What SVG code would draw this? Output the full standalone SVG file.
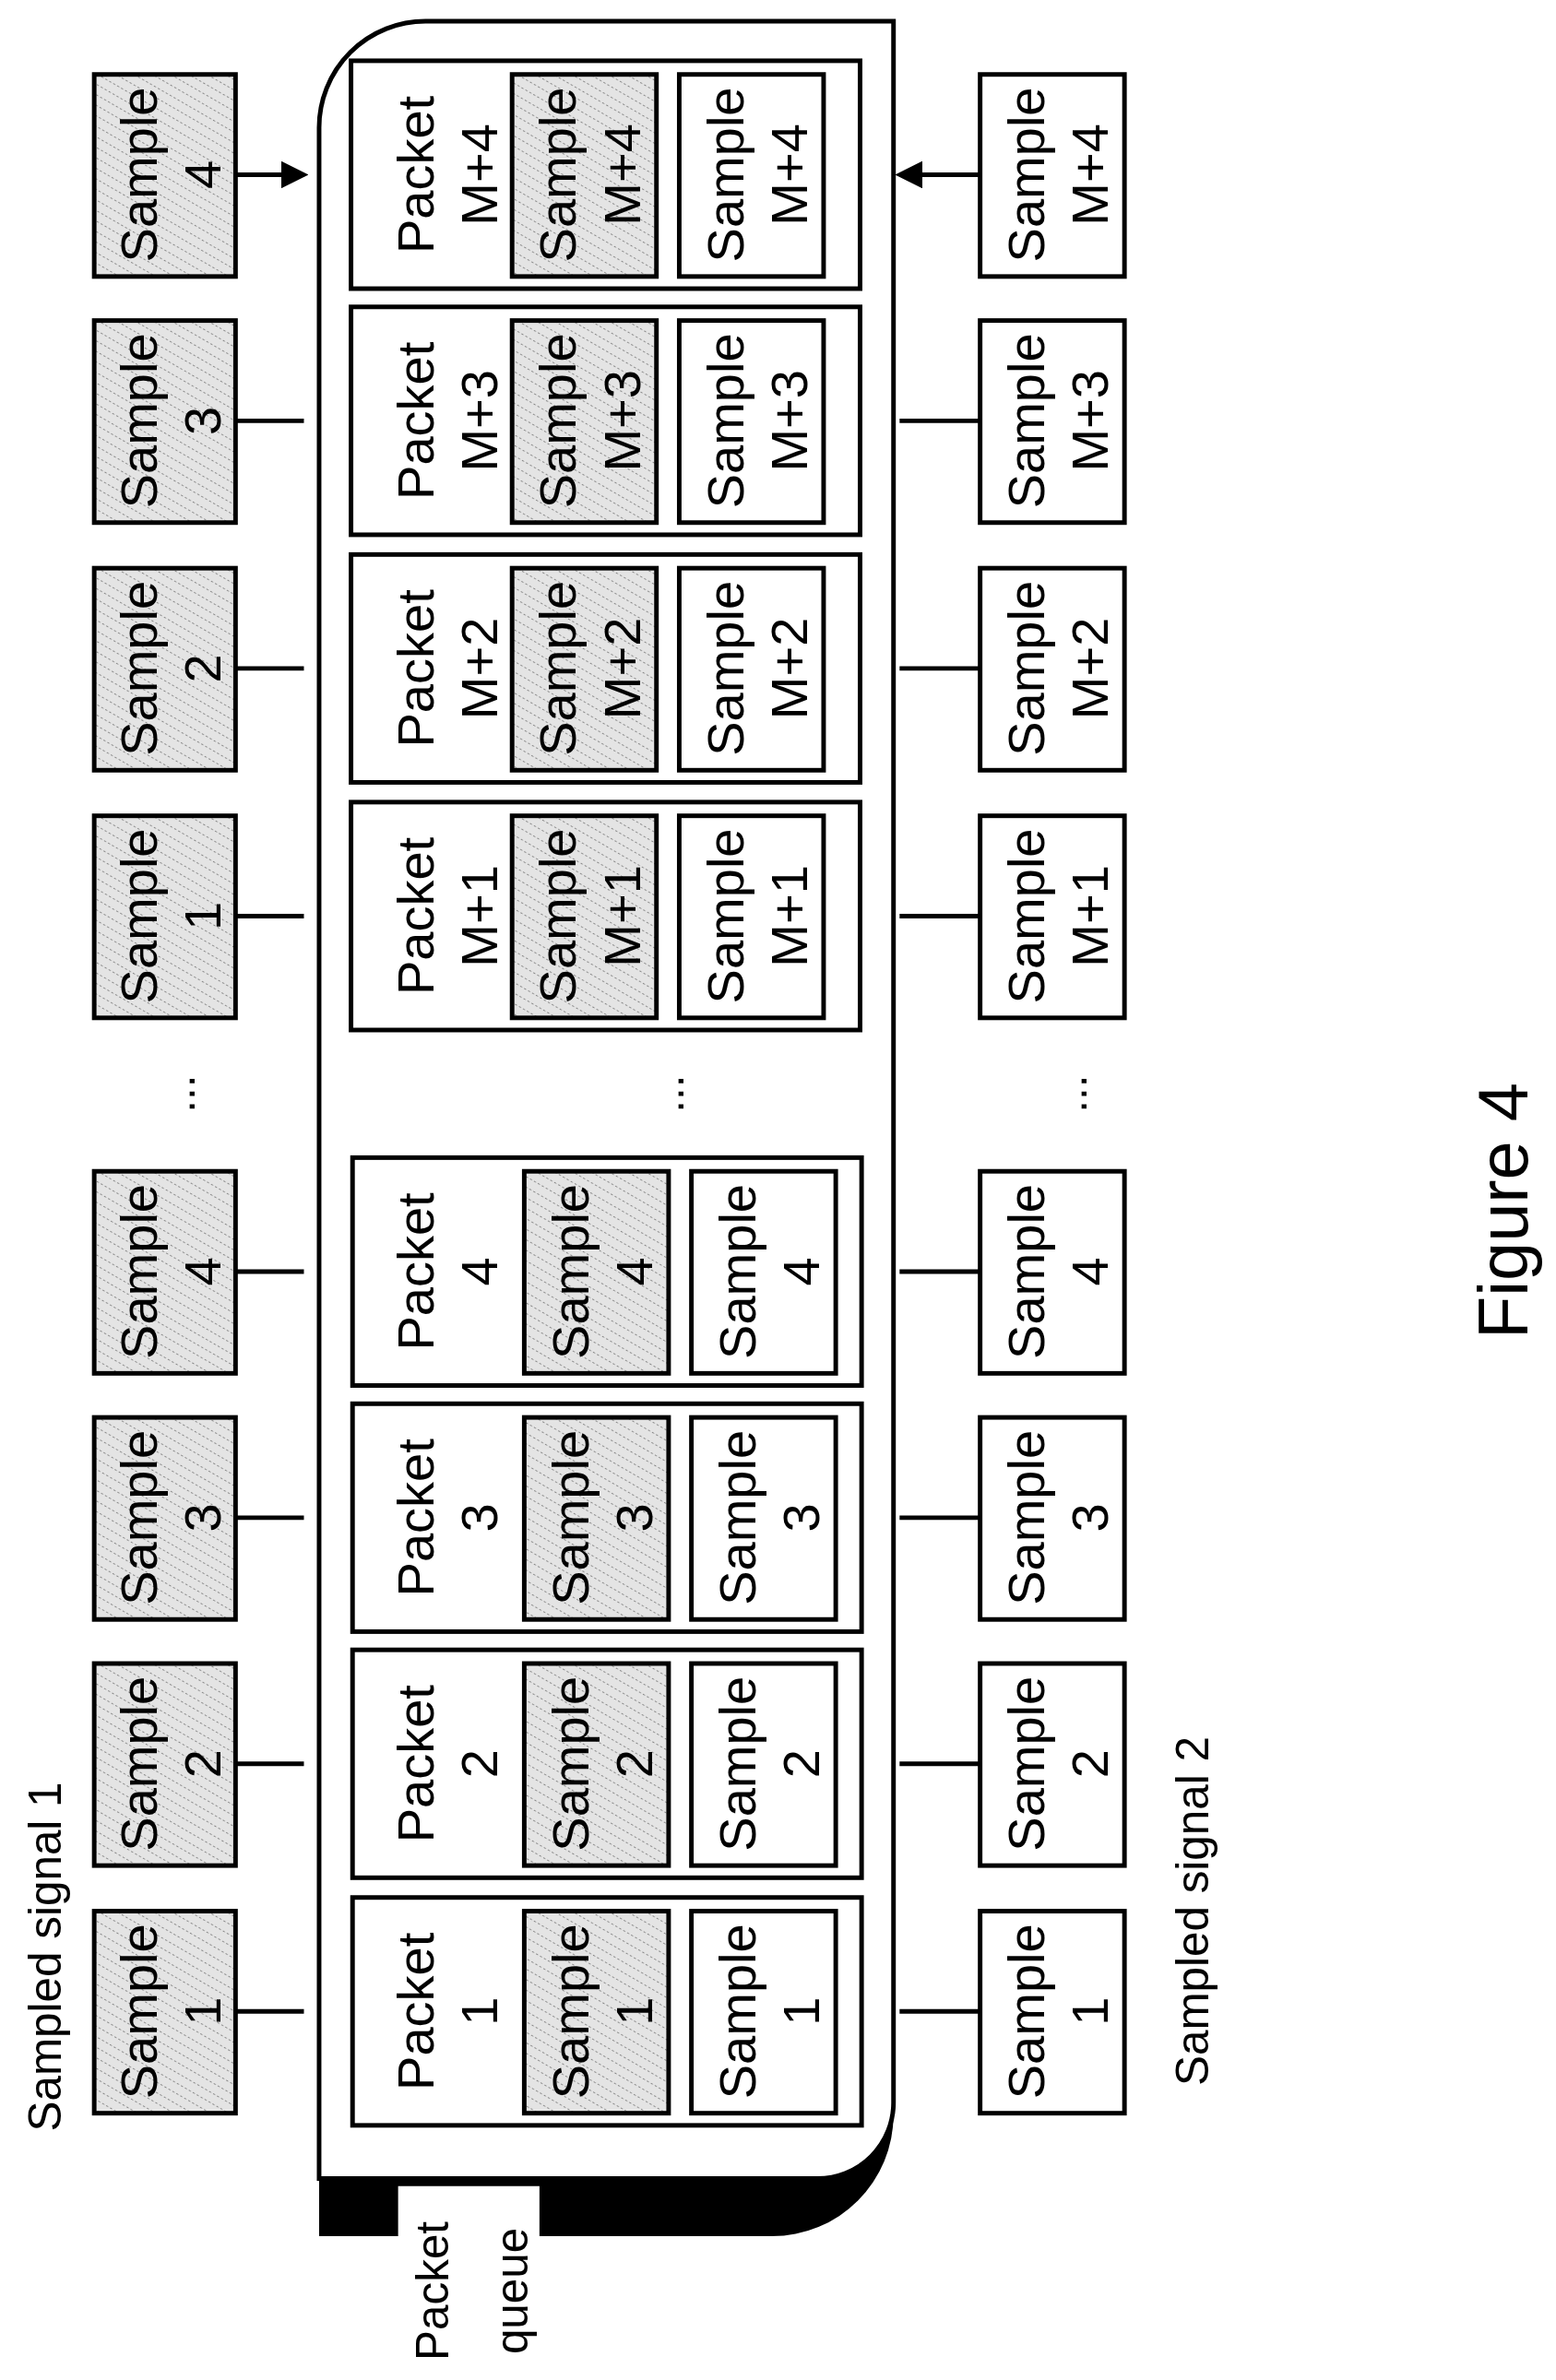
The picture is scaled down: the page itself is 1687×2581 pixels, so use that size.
<svg xmlns="http://www.w3.org/2000/svg" width="1687" height="2581" viewBox="0 0 1687 2581">
<defs>
<pattern id="hatch" patternUnits="userSpaceOnUse" width="6" height="6" patternTransform="rotate(-60)">
<rect width="6" height="6" fill="#e4e4e4"/>
<line x1="0" y1="0" x2="0" y2="6" stroke="#777" stroke-width="1" stroke-dasharray="1.5 1.5"/>
</pattern>
<marker id="ah" markerWidth="6" markerHeight="6" refX="5" refY="3" orient="auto" markerUnits="strokeWidth">
<path d="M0,0 L6,3 L0,6 Z" fill="#000"/>
</marker>
<style>
.b{fill:#fff;stroke:#000;stroke-width:3}
.h{fill:url(#hatch);stroke:#000;stroke-width:3}
.t{font-family:"Liberation Sans",Arial,sans-serif;font-size:34px;fill:#000;text-anchor:middle}
.l{font-family:"Liberation Sans",Arial,sans-serif;font-size:30px;fill:#000;text-anchor:middle}
.c{stroke:#000;stroke-width:3;fill:none;marker-end:url(#ah)}
</style>
<g id="smp">
<text class="t" transform="rotate(-90)"><tspan x="0" y="-5">Sample</tspan></text>
</g>
</defs>
<rect width="1687" height="2581" fill="#fff"/>
<g transform="scale(1.6475)">
<g id="queue">
<path d="M210,1420 L210,1472 L508,1472 A80,80 0 0 0 588,1392 L588,1300 Z" fill="#000"/>
<path d="M210,84 A70,70 0 0 1 280,14 L588,14 L588,1384 A50,50 0 0 1 538,1434 L210,1434 Z" fill="#fff" stroke="#000" stroke-width="3"/>
<rect x="262" y="1439" width="93" height="34" fill="#fff"/>
<text class="l" transform="translate(300,1508) rotate(-90)"><tspan x="0" y="-5">Packet</tspan><tspan x="0" y="47">queue</tspan></text>
</g>
<g id="labels">
<text class="l" transform="translate(40,1288) rotate(-90)" y="0">Sampled signal 1</text>
<text class="l" transform="translate(795,1258) rotate(-90)" y="0">Sampled signal 2</text>
<text class="l" transform="translate(1005,797) rotate(-90)" style="font-size:46px">Figure 4</text>
<text class="l" transform="translate(128,720) rotate(-90)">...</text>
<text class="l" transform="translate(450,720) rotate(-90)">...</text>
<text class="l" transform="translate(715,720) rotate(-90)">...</text>
</g>
<g id="connectors">
<path class="c" d="M155,1324 L200,1324 M155,1161 L200,1161 M155,999 L200,999 M155,837 L200,837 M155,603 L200,603 M155,440 L200,440 M155,277 L200,277 M155,115 L200,115"/>
<path class="c" d="M645,1324 L592,1324 M645,1161 L592,1161 M645,999 L592,999 M645,837 L592,837 M645,603 L592,603 M645,440 L592,440 M645,277 L592,277 M645,115 L592,115"/>
</g>
<g id="row1" transform="translate(0,1249)">
<rect class="h" x="62" y="9" width="93" height="133"/>
<text class="t" transform="translate(108,75) rotate(-90)"><tspan x="0" y="-5">Sample</tspan><tspan x="0" y="37">1</tspan></text>
<rect class="b" x="232" y="0" width="335" height="150"/>
<text class="t" transform="translate(290,75) rotate(-90)"><tspan x="0" y="-5">Packet</tspan><tspan x="0" y="37">1</tspan></text>
<rect class="h" x="345" y="9" width="95" height="133"/>
<text class="t" transform="translate(392,75) rotate(-90)"><tspan x="0" y="-5">Sample</tspan><tspan x="0" y="37">1</tspan></text>
<rect class="b" x="455" y="9" width="95" height="133"/>
<text class="t" transform="translate(502,75) rotate(-90)"><tspan x="0" y="-5">Sample</tspan><tspan x="0" y="37">1</tspan></text>
<rect class="b" x="645" y="9" width="95" height="133"/>
<text class="t" transform="translate(692,75) rotate(-90)"><tspan x="0" y="-5">Sample</tspan><tspan x="0" y="37">1</tspan></text>
</g>
<g id="row2" transform="translate(0,1086)">
<rect class="h" x="62" y="9" width="93" height="133"/>
<text class="t" transform="translate(108,75) rotate(-90)"><tspan x="0" y="-5">Sample</tspan><tspan x="0" y="37">2</tspan></text>
<rect class="b" x="232" y="0" width="335" height="150"/>
<text class="t" transform="translate(290,75) rotate(-90)"><tspan x="0" y="-5">Packet</tspan><tspan x="0" y="37">2</tspan></text>
<rect class="h" x="345" y="9" width="95" height="133"/>
<text class="t" transform="translate(392,75) rotate(-90)"><tspan x="0" y="-5">Sample</tspan><tspan x="0" y="37">2</tspan></text>
<rect class="b" x="455" y="9" width="95" height="133"/>
<text class="t" transform="translate(502,75) rotate(-90)"><tspan x="0" y="-5">Sample</tspan><tspan x="0" y="37">2</tspan></text>
<rect class="b" x="645" y="9" width="95" height="133"/>
<text class="t" transform="translate(692,75) rotate(-90)"><tspan x="0" y="-5">Sample</tspan><tspan x="0" y="37">2</tspan></text>
</g>
<g id="row3" transform="translate(0,924)">
<rect class="h" x="62" y="9" width="93" height="133"/>
<text class="t" transform="translate(108,75) rotate(-90)"><tspan x="0" y="-5">Sample</tspan><tspan x="0" y="37">3</tspan></text>
<rect class="b" x="232" y="0" width="335" height="150"/>
<text class="t" transform="translate(290,75) rotate(-90)"><tspan x="0" y="-5">Packet</tspan><tspan x="0" y="37">3</tspan></text>
<rect class="h" x="345" y="9" width="95" height="133"/>
<text class="t" transform="translate(392,75) rotate(-90)"><tspan x="0" y="-5">Sample</tspan><tspan x="0" y="37">3</tspan></text>
<rect class="b" x="455" y="9" width="95" height="133"/>
<text class="t" transform="translate(502,75) rotate(-90)"><tspan x="0" y="-5">Sample</tspan><tspan x="0" y="37">3</tspan></text>
<rect class="b" x="645" y="9" width="95" height="133"/>
<text class="t" transform="translate(692,75) rotate(-90)"><tspan x="0" y="-5">Sample</tspan><tspan x="0" y="37">3</tspan></text>
</g>
<g id="row4" transform="translate(0,762)">
<rect class="h" x="62" y="9" width="93" height="133"/>
<text class="t" transform="translate(108,75) rotate(-90)"><tspan x="0" y="-5">Sample</tspan><tspan x="0" y="37">4</tspan></text>
<rect class="b" x="232" y="0" width="335" height="150"/>
<text class="t" transform="translate(290,75) rotate(-90)"><tspan x="0" y="-5">Packet</tspan><tspan x="0" y="37">4</tspan></text>
<rect class="h" x="345" y="9" width="95" height="133"/>
<text class="t" transform="translate(392,75) rotate(-90)"><tspan x="0" y="-5">Sample</tspan><tspan x="0" y="37">4</tspan></text>
<rect class="b" x="455" y="9" width="95" height="133"/>
<text class="t" transform="translate(502,75) rotate(-90)"><tspan x="0" y="-5">Sample</tspan><tspan x="0" y="37">4</tspan></text>
<rect class="b" x="645" y="9" width="95" height="133"/>
<text class="t" transform="translate(692,75) rotate(-90)"><tspan x="0" y="-5">Sample</tspan><tspan x="0" y="37">4</tspan></text>
</g>
<g id="rowM1" transform="translate(0,528)">
<rect class="h" x="62" y="9" width="93" height="133"/>
<text class="t" transform="translate(108,75) rotate(-90)"><tspan x="0" y="-5">Sample</tspan><tspan x="0" y="37">1</tspan></text>
<rect class="b" x="231" y="0" width="335" height="150"/>
<text class="t" transform="translate(290,75) rotate(-90)"><tspan x="0" y="-5">Packet</tspan><tspan x="0" y="37">M+1</tspan></text>
<rect class="h" x="337" y="9" width="95" height="133"/>
<text class="t" transform="translate(384,75) rotate(-90)"><tspan x="0" y="-5">Sample</tspan><tspan x="0" y="37">M+1</tspan></text>
<rect class="b" x="447" y="9" width="95" height="133"/>
<text class="t" transform="translate(494,75) rotate(-90)"><tspan x="0" y="-5">Sample</tspan><tspan x="0" y="37">M+1</tspan></text>
<rect class="b" x="645" y="9" width="95" height="133"/>
<text class="t" transform="translate(692,75) rotate(-90)"><tspan x="0" y="-5">Sample</tspan><tspan x="0" y="37">M+1</tspan></text>
</g>
<g id="rowM2" transform="translate(0,365)">
<rect class="h" x="62" y="9" width="93" height="133"/>
<text class="t" transform="translate(108,75) rotate(-90)"><tspan x="0" y="-5">Sample</tspan><tspan x="0" y="37">2</tspan></text>
<rect class="b" x="231" y="0" width="335" height="150"/>
<text class="t" transform="translate(290,75) rotate(-90)"><tspan x="0" y="-5">Packet</tspan><tspan x="0" y="37">M+2</tspan></text>
<rect class="h" x="337" y="9" width="95" height="133"/>
<text class="t" transform="translate(384,75) rotate(-90)"><tspan x="0" y="-5">Sample</tspan><tspan x="0" y="37">M+2</tspan></text>
<rect class="b" x="447" y="9" width="95" height="133"/>
<text class="t" transform="translate(494,75) rotate(-90)"><tspan x="0" y="-5">Sample</tspan><tspan x="0" y="37">M+2</tspan></text>
<rect class="b" x="645" y="9" width="95" height="133"/>
<text class="t" transform="translate(692,75) rotate(-90)"><tspan x="0" y="-5">Sample</tspan><tspan x="0" y="37">M+2</tspan></text>
</g>
<g id="rowM3" transform="translate(0,202)">
<rect class="h" x="62" y="9" width="93" height="133"/>
<text class="t" transform="translate(108,75) rotate(-90)"><tspan x="0" y="-5">Sample</tspan><tspan x="0" y="37">3</tspan></text>
<rect class="b" x="231" y="0" width="335" height="150"/>
<text class="t" transform="translate(290,75) rotate(-90)"><tspan x="0" y="-5">Packet</tspan><tspan x="0" y="37">M+3</tspan></text>
<rect class="h" x="337" y="9" width="95" height="133"/>
<text class="t" transform="translate(384,75) rotate(-90)"><tspan x="0" y="-5">Sample</tspan><tspan x="0" y="37">M+3</tspan></text>
<rect class="b" x="447" y="9" width="95" height="133"/>
<text class="t" transform="translate(494,75) rotate(-90)"><tspan x="0" y="-5">Sample</tspan><tspan x="0" y="37">M+3</tspan></text>
<rect class="b" x="645" y="9" width="95" height="133"/>
<text class="t" transform="translate(692,75) rotate(-90)"><tspan x="0" y="-5">Sample</tspan><tspan x="0" y="37">M+3</tspan></text>
</g>
<g id="rowM4" transform="translate(0,40)">
<rect class="h" x="62" y="9" width="93" height="133"/>
<text class="t" transform="translate(108,75) rotate(-90)"><tspan x="0" y="-5">Sample</tspan><tspan x="0" y="37">4</tspan></text>
<rect class="b" x="231" y="0" width="335" height="150"/>
<text class="t" transform="translate(290,75) rotate(-90)"><tspan x="0" y="-5">Packet</tspan><tspan x="0" y="37">M+4</tspan></text>
<rect class="h" x="337" y="9" width="95" height="133"/>
<text class="t" transform="translate(384,75) rotate(-90)"><tspan x="0" y="-5">Sample</tspan><tspan x="0" y="37">M+4</tspan></text>
<rect class="b" x="447" y="9" width="95" height="133"/>
<text class="t" transform="translate(494,75) rotate(-90)"><tspan x="0" y="-5">Sample</tspan><tspan x="0" y="37">M+4</tspan></text>
<rect class="b" x="645" y="9" width="95" height="133"/>
<text class="t" transform="translate(692,75) rotate(-90)"><tspan x="0" y="-5">Sample</tspan><tspan x="0" y="37">M+4</tspan></text>
</g>
</g>
</svg>
